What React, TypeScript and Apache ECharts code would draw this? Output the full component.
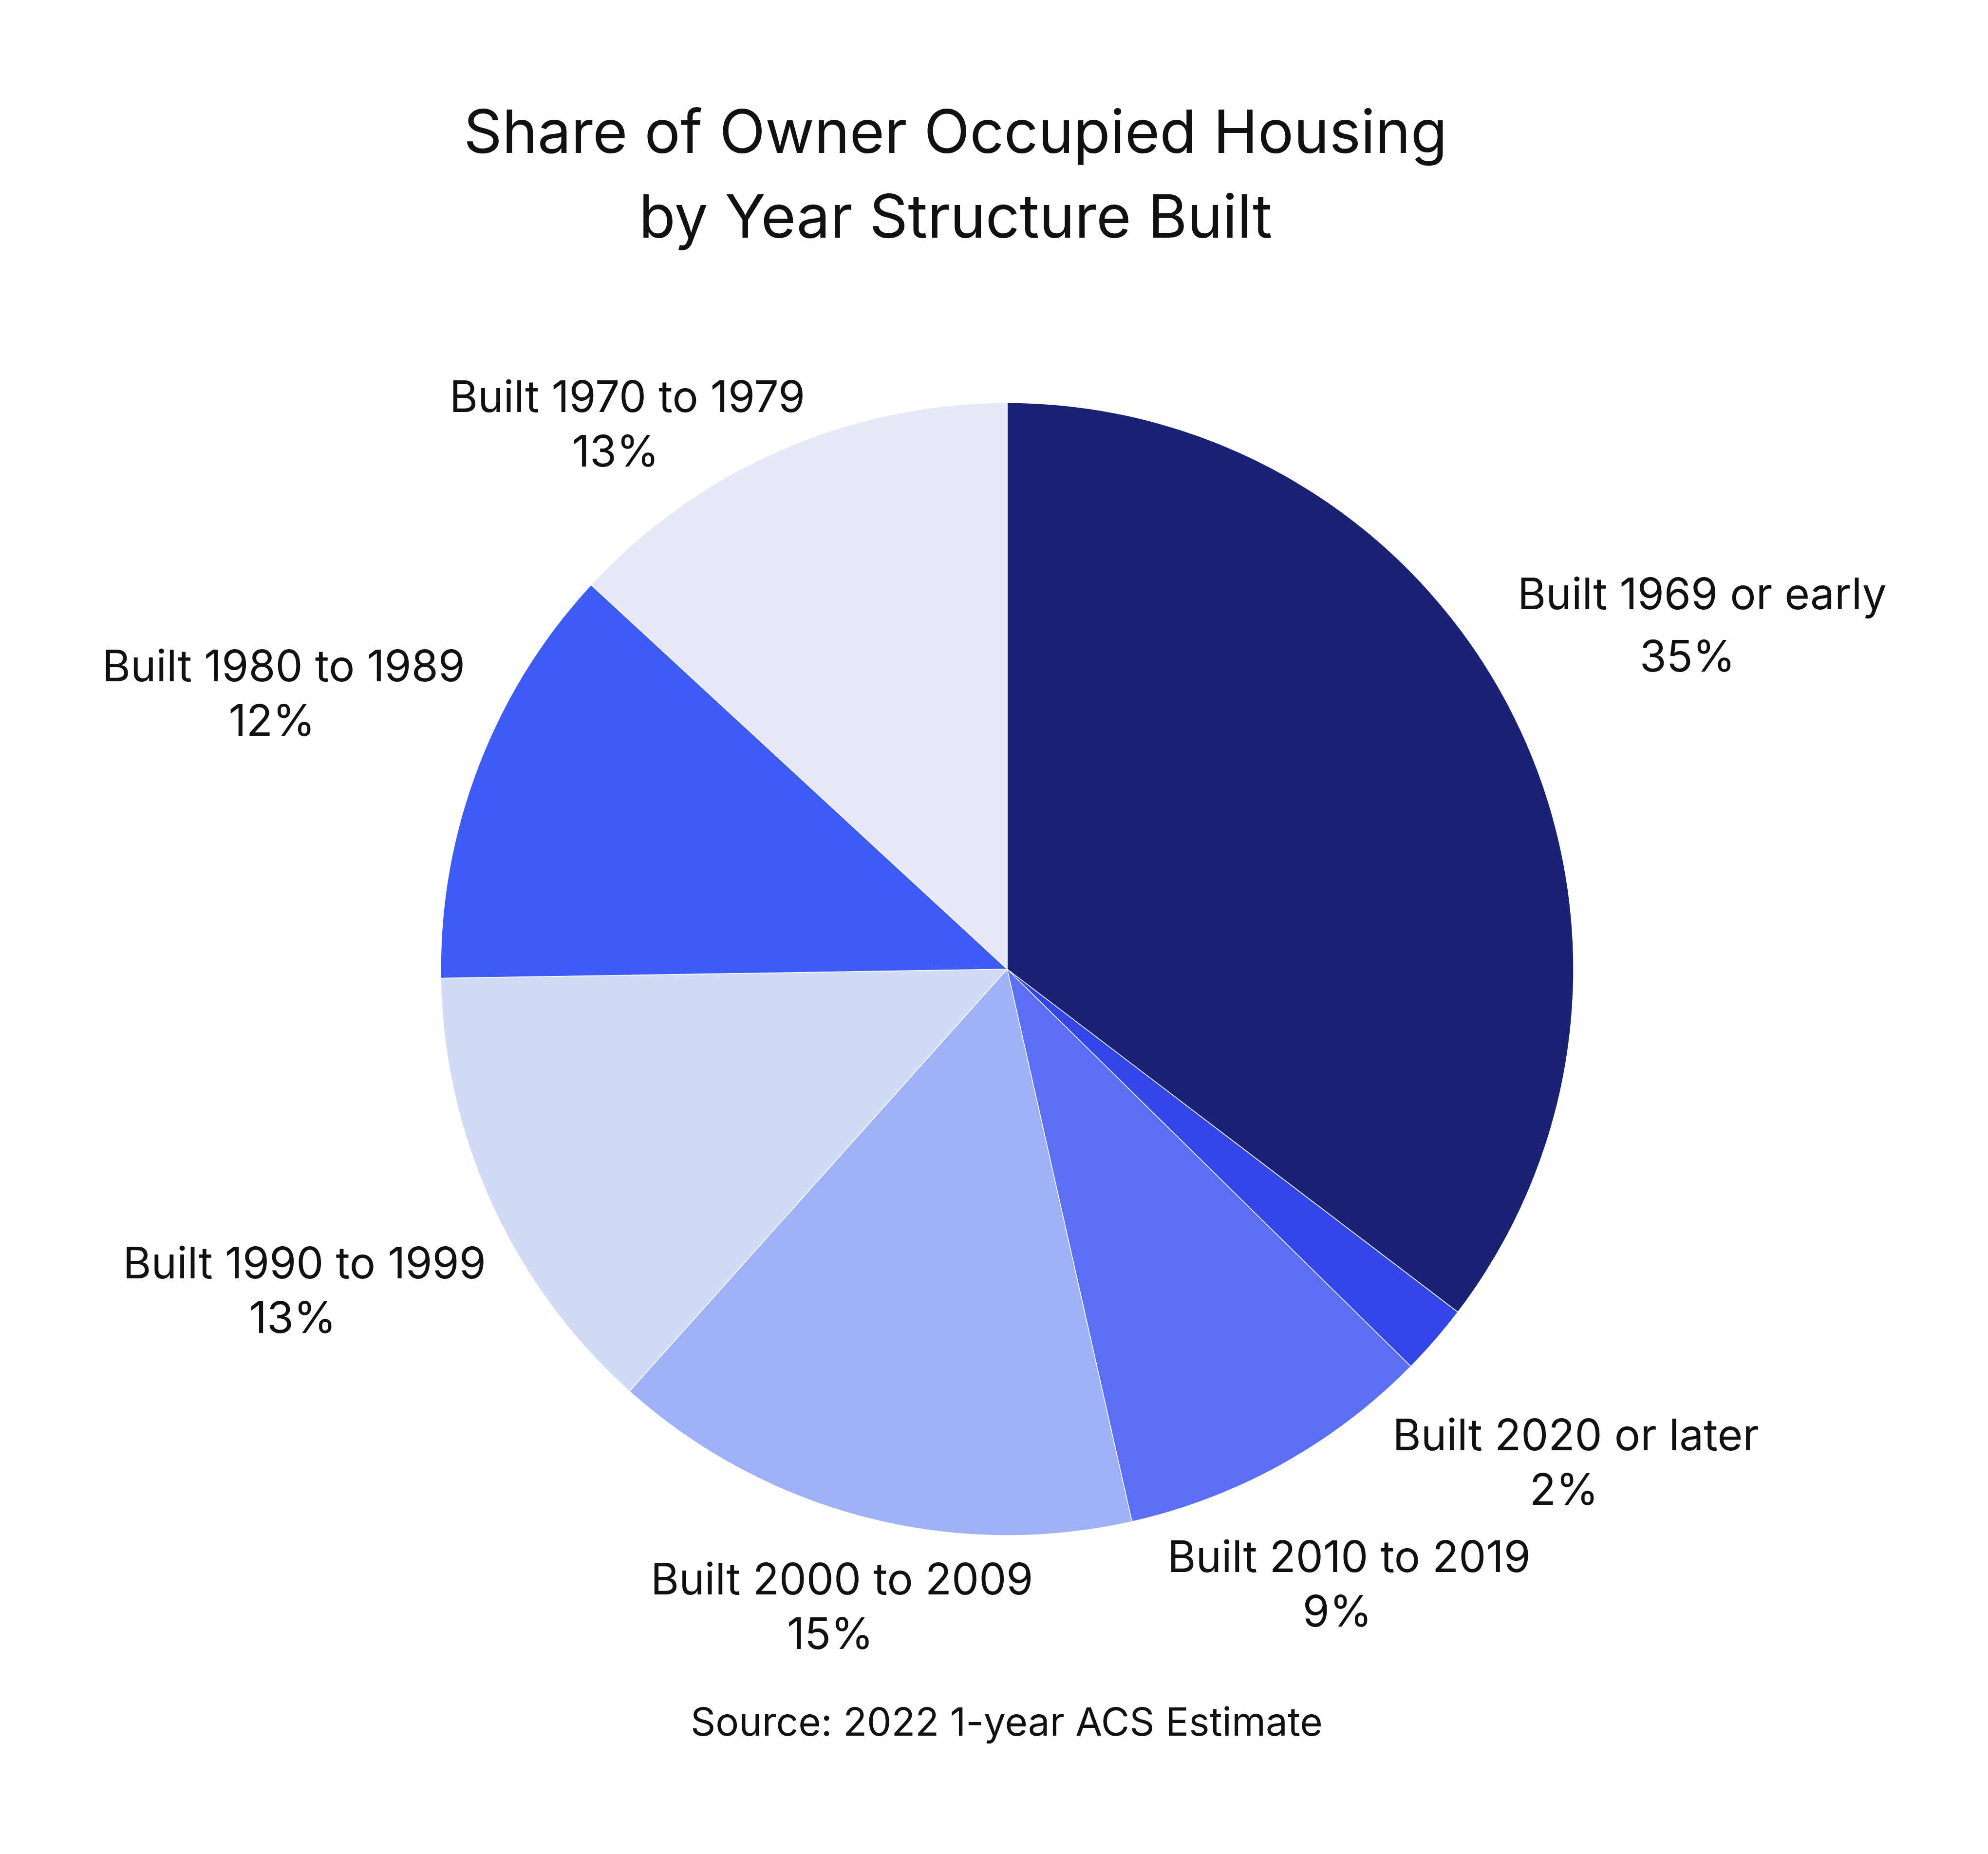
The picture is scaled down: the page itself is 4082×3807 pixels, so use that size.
import React, { useEffect, useRef } from "react";
import * as echarts from "echarts";

const categories = [
  "Built 1969 or early",
  "Built 2020 or later",
  "Built 2010 to 2019",
  "Built 2000 to 2009",
  "Built 1990 to 1999",
  "Built 1980 to 1989",
  "Built 1970 to 1979",
];
const shares = [35, 2, 9, 15, 13, 12, 13];
const sliceColors = ["#1a2275", "#3346e8", "#5a6ff5", "#9fb0f5", "#d0dcf6", "#3d5bf5", "#e5e8f6"];
const titleText = "Share of Owner Occupied Housing\nby Year Structure Built";
const sourceText = "Source: 2022 1-year ACS Estimate";

// styling / layout constants (not data)
const W = 4082;
const H = 3807;
const CX = 2068;
const CY = 1990;
const R = 1163;
const GAP = 44;
const FONT = "Inter, 'Noto Sans', sans-serif";
const LABEL_NUDGE: Record<string, [number, number]> = { "Built 1970 to 1979": [-215, 170] };

export default function App() {
  const ref = useRef<HTMLDivElement>(null);
  useEffect(() => {
    document.body.style.margin = "0";
    const chart = echarts.init(ref.current!, null, { renderer: "svg", width: W, height: H });
    const total = shares.reduce((a, b) => a + b, 0);
    const starts: number[] = [];
    let acc = 0;
    shares.forEach((v) => {
      starts.push(acc);
      acc += v;
    });
    const clearance = (cx: number, cy: number, w: number, h: number) => {
      const px = Math.min(Math.max(0, cx - w / 2), cx + w / 2);
      const py = Math.min(Math.max(0, cy - h / 2), cy + h / 2);
      return Math.hypot(px, py);
    };
    chart.setOption({
      animation: false,
      backgroundColor: "#ffffff",
      title: [
        {
          text: titleText,
          left: 1962,
          top: 182,
          padding: 0,
          textAlign: "center",
          textStyle: { fontFamily: FONT, fontSize: 123, fontWeight: "normal", color: "#111111", lineHeight: 174 },
        },
        {
          text: sourceText,
          left: 2067,
          top: 3486,
          padding: 0,
          textAlign: "center",
          textStyle: { fontFamily: FONT, fontSize: 80, fontWeight: "normal", color: "#111111", lineHeight: 96 },
        },
      ],
      series: [
        {
          type: "pie",
          center: [CX, CY],
          radius: R,
          startAngle: 90,
          clockwise: true,
          avoidLabelOverlap: false,
          itemStyle: { borderColor: "#ffffff", borderWidth: 1.5 },
          label: {
            show: true,
            position: "outside",
            formatter: (p: any) => `{n|${p.name}}\n{p|${p.value}%}`,
            rich: {
              n: { fontFamily: FONT, fontSize: 89, color: "#111111", lineHeight: 112 },
              p: { fontFamily: FONT, fontSize: 89, color: "#111111", lineHeight: 112, padding: [0, 48, 0, 0] },
            },
          },
          labelLine: { show: false },
          labelLayout: (params: any) => {
            const i = params.dataIndex;
            const mid = ((starts[i] + shares[i] / 2) / total) * Math.PI * 2;
            const dx = Math.sin(mid);
            const dy = -Math.cos(mid);
            const w = params.labelRect.width;
            const h = params.labelRect.height;
            let lo = 0;
            let hi = R * 3;
            for (let k = 0; k < 60; k++) {
              const t = (lo + hi) / 2;
              if (clearance(t * dx, t * dy, w, h) < R + GAP) lo = t;
              else hi = t;
            }
            const nudge = LABEL_NUDGE[categories[i]] || [0, 0];
            return {
              x: CX + hi * dx + nudge[0],
              y: CY + hi * dy + nudge[1],
              align: "center",
              verticalAlign: "middle",
            };
          },
          emphasis: { disabled: true },
          data: categories.map((name, i) => ({
            name,
            value: shares[i],
            itemStyle: { color: sliceColors[i] },
            label:
              i === 0
                ? {
                    rich: {
                      n: { fontFamily: FONT, fontSize: 89, color: "#111111", lineHeight: 128 },
                      p: { fontFamily: FONT, fontSize: 89, color: "#111111", lineHeight: 128, padding: [0, 60, 0, 0] },
                    },
                  }
                : undefined,
          })),
        },
      ],
    });
    return () => chart.dispose();
  }, []);
  return <div ref={ref} style={{ width: W, height: H }} />;
}
